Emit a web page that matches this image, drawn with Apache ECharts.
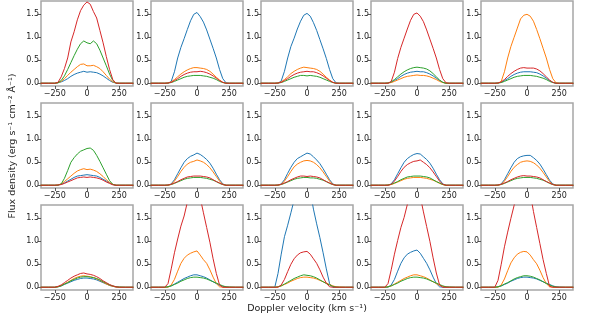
<!DOCTYPE html>
<html>
<head>
<meta charset="utf-8">
<script src="https://cdn.jsdelivr.net/npm/echarts@6.0.0/dist/echarts.min.js"></script>
<style>
    html, body { margin: 0; padding: 0; background: #fff; }
    #chart { width: 598px; height: 323px; }
</style>
</head>
<body>
<div id="chart"></div>
<script>
// Doppler velocity grid (km/s), shared by every profile
const velocity = [-360, -300, -250, -225, -200, -175, -150, -125, -100, -75, -50, -25, 0, 25, 50, 75, 100, 125, 150, 175, 200, 225, 250, 300, 360]

const xTicks = [-250, 0, 250]
const yTicks = [0, 0.5, 1, 1.5]
const lineColors = ["#1f77b4", "#ff7f0e", "#2ca02c", "#d62728"]

// row 1
const r1c1_blue = [0, 0, 0, 0.01, 0.03, 0.06, 0.1, 0.15, 0.19, 0.22, 0.24, 0.26, 0.24, 0.25, 0.24, 0.23, 0.2, 0.16, 0.11, 0.06, 0.02, 0.005, 0, 0, 0]
const r1c1_orange = [0, 0, 0, 0.01, 0.04, 0.1, 0.17, 0.24, 0.3, 0.36, 0.41, 0.42, 0.38, 0.38, 0.39, 0.36, 0.32, 0.25, 0.17, 0.09, 0.03, 0.005, 0, 0, 0]
const r1c1_green = [0, 0, 0, 0.01, 0.06, 0.16, 0.3, 0.45, 0.6, 0.74, 0.86, 0.92, 0.88, 0.86, 0.92, 0.86, 0.72, 0.55, 0.38, 0.2, 0.06, 0, 0, 0, 0]
const r1c1_red = [0, 0, 0, 0.02, 0.14, 0.32, 0.55, 0.9, 1.12, 1.38, 1.58, 1.7, 1.77, 1.72, 1.56, 1.42, 1.15, 0.88, 0.58, 0.3, 0.08, 0, 0, 0, 0]

const r1c2_blue = [0, 0, 0, 0, 0.04, 0.25, 0.55, 0.78, 0.97, 1.17, 1.36, 1.5, 1.54, 1.45, 1.33, 1.16, 0.96, 0.76, 0.55, 0.3, 0.1, 0.01, 0, 0, 0]
const r1c2_orange = [0, 0, 0, 0.005, 0.03, 0.08, 0.14, 0.2, 0.25, 0.29, 0.32, 0.34, 0.34, 0.33, 0.32, 0.3, 0.26, 0.2, 0.13, 0.07, 0.02, 0, 0, 0, 0]
const r1c2_green = [0, 0, 0, 0.005, 0.015, 0.04, 0.07, 0.1, 0.13, 0.15, 0.16, 0.17, 0.17, 0.17, 0.16, 0.15, 0.13, 0.11, 0.08, 0.04, 0.015, 0, 0, 0, 0]
const r1c2_red = [0, 0, 0, 0.005, 0.02, 0.06, 0.1, 0.15, 0.19, 0.22, 0.24, 0.25, 0.25, 0.26, 0.25, 0.23, 0.2, 0.16, 0.11, 0.06, 0.02, 0, 0, 0, 0]

const r1c3_blue = [0, 0, 0, 0, 0.05, 0.26, 0.55, 0.8, 0.98, 1.18, 1.35, 1.48, 1.52, 1.46, 1.32, 1.15, 0.95, 0.75, 0.54, 0.3, 0.1, 0.01, 0, 0, 0]
const r1c3_orange = [0, 0, 0, 0.005, 0.03, 0.08, 0.14, 0.21, 0.26, 0.3, 0.33, 0.35, 0.34, 0.33, 0.32, 0.3, 0.26, 0.2, 0.13, 0.07, 0.02, 0, 0, 0, 0]
const r1c3_green = [0, 0, 0, 0.005, 0.015, 0.04, 0.07, 0.1, 0.13, 0.15, 0.17, 0.17, 0.16, 0.17, 0.16, 0.15, 0.13, 0.1, 0.07, 0.04, 0.015, 0, 0, 0, 0]
const r1c3_red = [0, 0, 0, 0.005, 0.02, 0.06, 0.1, 0.15, 0.19, 0.22, 0.24, 0.25, 0.26, 0.25, 0.25, 0.23, 0.2, 0.16, 0.11, 0.06, 0.02, 0, 0, 0, 0]

const r1c4_blue = [0, 0, 0, 0.005, 0.02, 0.06, 0.1, 0.15, 0.19, 0.22, 0.24, 0.25, 0.26, 0.25, 0.25, 0.23, 0.2, 0.16, 0.11, 0.06, 0.02, 0, 0, 0, 0]
const r1c4_orange = [0, 0, 0, 0.005, 0.015, 0.04, 0.07, 0.1, 0.13, 0.15, 0.16, 0.17, 0.18, 0.17, 0.17, 0.16, 0.14, 0.11, 0.08, 0.04, 0.015, 0, 0, 0, 0]
const r1c4_green = [0, 0, 0, 0.005, 0.03, 0.08, 0.14, 0.2, 0.25, 0.29, 0.32, 0.34, 0.35, 0.34, 0.33, 0.31, 0.27, 0.21, 0.14, 0.07, 0.02, 0, 0, 0, 0]
const r1c4_red = [0, 0, 0, 0, 0.04, 0.24, 0.54, 0.78, 0.98, 1.18, 1.37, 1.5, 1.53, 1.46, 1.34, 1.16, 0.96, 0.76, 0.55, 0.3, 0.1, 0.01, 0, 0, 0]

const r1c5_blue = [0, 0, 0, 0.005, 0.02, 0.06, 0.1, 0.15, 0.19, 0.22, 0.24, 0.25, 0.25, 0.25, 0.24, 0.23, 0.2, 0.16, 0.11, 0.06, 0.02, 0, 0, 0, 0]
const r1c5_orange = [0, 0, 0, 0, 0.04, 0.25, 0.55, 0.8, 1.0, 1.2, 1.4, 1.48, 1.5, 1.46, 1.35, 1.17, 0.97, 0.76, 0.55, 0.3, 0.1, 0.01, 0, 0, 0]
const r1c5_green = [0, 0, 0, 0.005, 0.015, 0.04, 0.07, 0.1, 0.13, 0.15, 0.16, 0.17, 0.17, 0.17, 0.16, 0.15, 0.13, 0.11, 0.08, 0.04, 0.015, 0, 0, 0, 0]
const r1c5_red = [0, 0, 0, 0.005, 0.03, 0.08, 0.15, 0.21, 0.26, 0.3, 0.33, 0.34, 0.33, 0.33, 0.33, 0.31, 0.27, 0.21, 0.14, 0.07, 0.02, 0, 0, 0, 0]

// row 2
const r2c1_blue = [0, 0, 0, 0.005, 0.02, 0.05, 0.09, 0.13, 0.17, 0.2, 0.21, 0.22, 0.23, 0.22, 0.21, 0.2, 0.17, 0.13, 0.09, 0.05, 0.015, 0, 0, 0, 0]
const r2c1_orange = [0, 0, 0, 0.005, 0.03, 0.08, 0.14, 0.2, 0.26, 0.31, 0.34, 0.36, 0.34, 0.35, 0.33, 0.3, 0.25, 0.19, 0.12, 0.06, 0.02, 0, 0, 0, 0]
const r2c1_green = [0, 0, 0, 0, 0.03, 0.15, 0.32, 0.5, 0.6, 0.68, 0.74, 0.77, 0.8, 0.81, 0.76, 0.65, 0.52, 0.38, 0.24, 0.1, 0.02, 0, 0, 0, 0]
const r2c1_red = [0, 0, 0, 0.005, 0.015, 0.04, 0.07, 0.1, 0.13, 0.16, 0.17, 0.18, 0.17, 0.18, 0.17, 0.16, 0.14, 0.11, 0.07, 0.04, 0.01, 0, 0, 0, 0]

const r2c2_blue = [0, 0, 0, 0, 0.03, 0.12, 0.25, 0.38, 0.5, 0.58, 0.63, 0.66, 0.7, 0.67, 0.62, 0.56, 0.48, 0.37, 0.24, 0.12, 0.03, 0, 0, 0, 0]
const r2c2_orange = [0, 0, 0, 0, 0.02, 0.09, 0.19, 0.3, 0.39, 0.46, 0.5, 0.52, 0.55, 0.53, 0.5, 0.45, 0.38, 0.29, 0.19, 0.09, 0.02, 0, 0, 0, 0]
const r2c2_green = [0, 0, 0, 0.005, 0.015, 0.04, 0.07, 0.1, 0.13, 0.15, 0.16, 0.17, 0.17, 0.17, 0.16, 0.15, 0.13, 0.11, 0.08, 0.04, 0.015, 0, 0, 0, 0]
const r2c2_red = [0, 0, 0, 0.005, 0.02, 0.05, 0.08, 0.12, 0.15, 0.18, 0.19, 0.2, 0.2, 0.2, 0.19, 0.18, 0.16, 0.12, 0.08, 0.05, 0.015, 0, 0, 0, 0]

const r2c3_blue = [0, 0, 0, 0, 0.03, 0.12, 0.26, 0.39, 0.5, 0.58, 0.62, 0.66, 0.7, 0.68, 0.62, 0.55, 0.47, 0.36, 0.24, 0.12, 0.03, 0, 0, 0, 0]
const r2c3_orange = [0, 0, 0, 0, 0.02, 0.09, 0.19, 0.3, 0.4, 0.46, 0.5, 0.53, 0.54, 0.53, 0.5, 0.45, 0.38, 0.29, 0.19, 0.09, 0.02, 0, 0, 0, 0]
const r2c3_green = [0, 0, 0, 0.005, 0.015, 0.04, 0.07, 0.1, 0.13, 0.15, 0.16, 0.17, 0.17, 0.16, 0.16, 0.15, 0.13, 0.11, 0.08, 0.04, 0.015, 0, 0, 0, 0]
const r2c3_red = [0, 0, 0, 0.005, 0.02, 0.05, 0.08, 0.12, 0.15, 0.18, 0.2, 0.2, 0.19, 0.2, 0.19, 0.18, 0.16, 0.12, 0.08, 0.05, 0.015, 0, 0, 0, 0]

const r2c4_blue = [0, 0, 0, 0, 0.03, 0.12, 0.25, 0.38, 0.5, 0.58, 0.63, 0.67, 0.69, 0.68, 0.62, 0.56, 0.48, 0.37, 0.24, 0.12, 0.03, 0, 0, 0, 0]
const r2c4_orange = [0, 0, 0, 0.005, 0.015, 0.04, 0.07, 0.1, 0.13, 0.15, 0.16, 0.17, 0.17, 0.17, 0.16, 0.15, 0.13, 0.11, 0.08, 0.04, 0.015, 0, 0, 0, 0]
const r2c4_green = [0, 0, 0, 0.005, 0.02, 0.05, 0.08, 0.12, 0.15, 0.18, 0.19, 0.2, 0.2, 0.2, 0.19, 0.18, 0.16, 0.12, 0.08, 0.05, 0.015, 0, 0, 0, 0]
const r2c4_red = [0, 0, 0, 0, 0.02, 0.09, 0.19, 0.3, 0.39, 0.45, 0.49, 0.52, 0.53, 0.55, 0.5, 0.45, 0.38, 0.29, 0.19, 0.09, 0.02, 0, 0, 0, 0]

const r2c5_blue = [0, 0, 0, 0, 0.03, 0.12, 0.25, 0.38, 0.5, 0.58, 0.62, 0.64, 0.65, 0.65, 0.6, 0.54, 0.46, 0.35, 0.23, 0.11, 0.03, 0, 0, 0, 0]
const r2c5_orange = [0, 0, 0, 0, 0.02, 0.09, 0.19, 0.3, 0.39, 0.45, 0.5, 0.52, 0.53, 0.52, 0.49, 0.44, 0.37, 0.28, 0.18, 0.08, 0.02, 0, 0, 0, 0]
const r2c5_green = [0, 0, 0, 0.005, 0.015, 0.04, 0.07, 0.1, 0.13, 0.15, 0.16, 0.17, 0.17, 0.17, 0.16, 0.15, 0.13, 0.11, 0.08, 0.04, 0.015, 0, 0, 0, 0]
const r2c5_red = [0, 0, 0, 0.005, 0.02, 0.05, 0.08, 0.12, 0.15, 0.18, 0.2, 0.21, 0.2, 0.2, 0.19, 0.18, 0.16, 0.12, 0.08, 0.05, 0.015, 0, 0, 0, 0]

// row 3
const r3c1_blue = [0, 0, 0, 0.01, 0.03, 0.06, 0.09, 0.12, 0.15, 0.17, 0.19, 0.2, 0.2, 0.19, 0.18, 0.16, 0.13, 0.1, 0.07, 0.04, 0.02, 0.005, 0, 0, 0]
const r3c1_orange = [0, 0, 0, 0.01, 0.04, 0.07, 0.11, 0.15, 0.19, 0.22, 0.24, 0.25, 0.24, 0.23, 0.21, 0.18, 0.15, 0.11, 0.07, 0.04, 0.02, 0.005, 0, 0, 0]
const r3c1_green = [0, 0, 0, 0.01, 0.03, 0.07, 0.1, 0.14, 0.17, 0.2, 0.22, 0.23, 0.23, 0.22, 0.21, 0.19, 0.16, 0.12, 0.09, 0.05, 0.03, 0.01, 0.005, 0, 0]
const r3c1_red = [0, 0, 0, 0.02, 0.05, 0.1, 0.15, 0.2, 0.24, 0.27, 0.3, 0.31, 0.29, 0.28, 0.26, 0.23, 0.19, 0.14, 0.1, 0.06, 0.03, 0.01, 0, 0, 0]

const r3c2_blue = [0, 0, 0, 0.01, 0.03, 0.07, 0.11, 0.15, 0.19, 0.22, 0.25, 0.27, 0.27, 0.25, 0.23, 0.2, 0.16, 0.12, 0.08, 0.04, 0.02, 0.005, 0, 0, 0]
const r3c2_orange = [0, 0, 0, 0, 0.05, 0.17, 0.35, 0.52, 0.63, 0.7, 0.74, 0.77, 0.79, 0.7, 0.6, 0.52, 0.38, 0.22, 0.08, 0.01, 0, 0, 0, 0, 0]
const r3c2_green = [0, 0, 0, 0.01, 0.03, 0.06, 0.09, 0.13, 0.16, 0.19, 0.21, 0.22, 0.22, 0.21, 0.2, 0.18, 0.15, 0.12, 0.09, 0.06, 0.03, 0.01, 0.005, 0, 0]
const r3c2_red = [0, 0, 0, 0.08, 0.4, 0.75, 1.05, 1.33, 1.55, 1.85, 2.2, 2.45, 2.4, 1.95, 1.62, 1.3, 0.98, 0.62, 0.3, 0.05, 0, 0, 0, 0, 0]

const r3c3_blue = [0, 0, 0, 0.3, 0.72, 1.1, 1.35, 1.62, 1.9, 2.2, 2.5, 2.7, 2.6, 2.1, 1.7, 1.38, 1.08, 0.75, 0.4, 0.08, 0, 0, 0, 0, 0]
const r3c3_orange = [0, 0, 0, 0.01, 0.03, 0.06, 0.09, 0.13, 0.16, 0.19, 0.21, 0.22, 0.22, 0.21, 0.2, 0.18, 0.15, 0.12, 0.09, 0.06, 0.03, 0.01, 0.005, 0, 0]
const r3c3_green = [0, 0, 0, 0.01, 0.03, 0.07, 0.11, 0.15, 0.19, 0.22, 0.25, 0.27, 0.26, 0.25, 0.23, 0.2, 0.16, 0.12, 0.08, 0.05, 0.02, 0.005, 0, 0, 0]
const r3c3_red = [0, 0, 0, 0, 0.05, 0.17, 0.34, 0.5, 0.62, 0.7, 0.75, 0.77, 0.78, 0.72, 0.62, 0.52, 0.38, 0.22, 0.09, 0.01, 0, 0, 0, 0, 0]

const r3c4_blue = [0, 0, 0, 0, 0.05, 0.17, 0.35, 0.52, 0.64, 0.72, 0.76, 0.79, 0.81, 0.74, 0.63, 0.52, 0.38, 0.22, 0.08, 0.01, 0, 0, 0, 0, 0]
const r3c4_orange = [0, 0, 0, 0.01, 0.03, 0.07, 0.11, 0.15, 0.19, 0.22, 0.25, 0.27, 0.27, 0.25, 0.23, 0.2, 0.16, 0.12, 0.08, 0.04, 0.02, 0.005, 0, 0, 0]
const r3c4_green = [0, 0, 0, 0.01, 0.03, 0.06, 0.09, 0.13, 0.16, 0.19, 0.21, 0.22, 0.22, 0.21, 0.2, 0.18, 0.15, 0.12, 0.09, 0.06, 0.03, 0.01, 0.005, 0, 0]
const r3c4_red = [0, 0, 0, 0.08, 0.38, 0.72, 1.02, 1.3, 1.52, 1.8, 2.15, 2.4, 2.38, 1.98, 1.64, 1.32, 1.0, 0.64, 0.31, 0.05, 0, 0, 0, 0, 0]

const r3c5_blue = [0, 0, 0, 0.01, 0.03, 0.06, 0.09, 0.13, 0.16, 0.19, 0.21, 0.22, 0.22, 0.21, 0.2, 0.18, 0.15, 0.12, 0.09, 0.06, 0.03, 0.01, 0.005, 0, 0]
const r3c5_orange = [0, 0, 0, 0, 0.05, 0.18, 0.36, 0.53, 0.64, 0.72, 0.76, 0.78, 0.77, 0.7, 0.6, 0.51, 0.37, 0.21, 0.08, 0.01, 0, 0, 0, 0, 0]
const r3c5_green = [0, 0, 0, 0.01, 0.03, 0.07, 0.1, 0.14, 0.18, 0.21, 0.23, 0.25, 0.25, 0.24, 0.22, 0.19, 0.16, 0.12, 0.08, 0.05, 0.02, 0.005, 0, 0, 0]
const r3c5_red = [0, 0, 0, 0.15, 0.5, 0.88, 1.2, 1.5, 1.78, 2.1, 2.4, 2.6, 2.5, 2.05, 1.65, 1.3, 0.95, 0.6, 0.3, 0.02, 0, 0, 0, 0, 0]

// panels in reading order, lines drawn blue, orange, green, red
const panels = [
    [r1c1_blue, r1c1_orange, r1c1_green, r1c1_red],
    [r1c2_blue, r1c2_orange, r1c2_green, r1c2_red],
    [r1c3_blue, r1c3_orange, r1c3_green, r1c3_red],
    [r1c4_blue, r1c4_orange, r1c4_green, r1c4_red],
    [r1c5_blue, r1c5_orange, r1c5_green, r1c5_red],
    [r2c1_blue, r2c1_orange, r2c1_green, r2c1_red],
    [r2c2_blue, r2c2_orange, r2c2_green, r2c2_red],
    [r2c3_blue, r2c3_orange, r2c3_green, r2c3_red],
    [r2c4_blue, r2c4_orange, r2c4_green, r2c4_red],
    [r2c5_blue, r2c5_orange, r2c5_green, r2c5_red],
    [r3c1_blue, r3c1_orange, r3c1_green, r3c1_red],
    [r3c2_blue, r3c2_orange, r3c2_green, r3c2_red],
    [r3c3_blue, r3c3_orange, r3c3_green, r3c3_red],
    [r3c4_blue, r3c4_orange, r3c4_green, r3c4_red],
    [r3c5_blue, r3c5_orange, r3c5_green, r3c5_red],
]

const colLefts = [41, 151, 261, 371, 481]
const rowTops = [1, 103, 205]
const panelW = 92
const panelH = 85
const font = "DejaVu Sans"

let chart = echarts.init(document.getElementById("chart"))

let grids = []
let xAxes = []
let yAxes = []
let series = []

panels.forEach((lines, i) => {
    const row = Math.floor(i / 5)
    const col = i % 5
    grids.push({
        left: colLefts[col],
        top: rowTops[row],
        width: panelW,
        height: panelH,
        show: true,
        borderColor: "#a6a6a6",
        borderWidth: 1.5,
        backgroundColor: "transparent",
    })
    xAxes.push({
        gridIndex: i,
        type: "value",
        position: "bottom",
        min: -357,
        max: 357,
        axisLine: { show: false, onZero: false },
        splitLine: { show: false },
        axisTick: { show: true, length: 3, lineStyle: { color: "#333", width: 0.8 }, customValues: xTicks },
        axisLabel: {
            customValues: xTicks,
            fontSize: 8,
            fontFamily: font,
            color: "#222",
            margin: 4,
            formatter: (v) => `${v}`.replace("-", "\u2212"),
        },
    })
    yAxes.push({
        gridIndex: i,
        type: "value",
        position: "left",
        min: -0.06,
        max: 1.79,
        axisLine: { show: false, onZero: false },
        splitLine: { show: false },
        axisTick: { show: true, length: 3, lineStyle: { color: "#333", width: 0.8 }, customValues: yTicks },
        axisLabel: {
            customValues: yTicks,
            fontSize: 8,
            fontFamily: font,
            color: "#222",
            margin: 2,
            formatter: (v) => v.toFixed(1),
        },
    })
    lines.forEach((vals, k) => {
        series.push({
            type: "line",
            xAxisIndex: i,
            yAxisIndex: i,
            showSymbol: false,
            clip: true,
            lineStyle: { color: lineColors[k], width: 1 },
            data: velocity.map((v, j) => [v, vals[j]]),
        })
    })
})

let option = {
    animation: false,
    backgroundColor: "#fff",
    grid: grids,
    xAxis: xAxes,
    yAxis: yAxes,
    series: series,
    graphic: [
        {
            type: "text",
            x: 307,
            y: 309,
            style: {
                text: "Doppler velocity (km s\u207B\u00B9)",
                fontSize: 9.5,
                fontFamily: font,
                fill: "#222",
                align: "center",
                verticalAlign: "middle",
            },
        },
        {
            type: "text",
            x: 13,
            y: 146,
            rotation: Math.PI / 2,
            style: {
                text: "Flux density (erg s\u207B\u00B9 cm\u207B\u00B2 \u00C5\u207B\u00B9)",
                fontSize: 9.5,
                fontFamily: font,
                fill: "#222",
                align: "center",
                verticalAlign: "middle",
            },
        },
    ],
}

option && chart.setOption(option)
</script>
</body>
</html>
